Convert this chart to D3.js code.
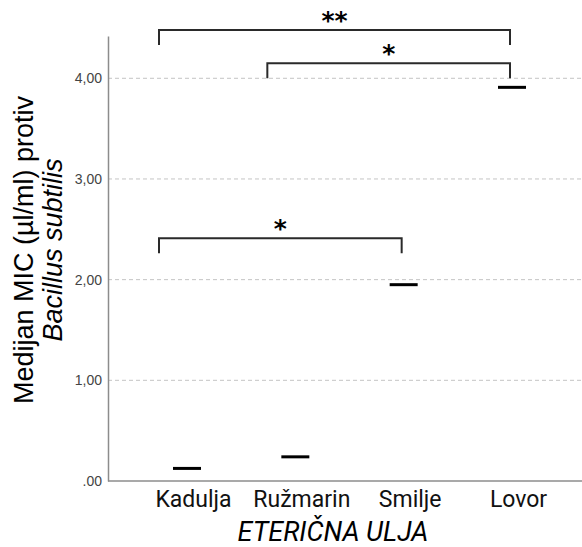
<!DOCTYPE html>
<meta charset="utf-8">
<style>
body {
  margin: 0;
  background-color: #ffffff;
}
.grid line {
  stroke: #c4c4c4;
  stroke-width: 1px;
  stroke-dasharray: 4,3;
}
.axis path,
.axis line {
  fill: none;
  stroke: #8c8c8c;
  stroke-width: 1.5px;
}
.y text {
  font-family: 'Liberation Sans', Arial, sans-serif;
  font-size: 14px;
  fill: #444;
}
.x text {
  font-family: Roboto, sans-serif;
  font-size: 23px;
  fill: #111;
}
.median {
  stroke: #000;
  stroke-width: 3px;
}
.bracket {
  fill: none;
  stroke: #2a2a2a;
  stroke-width: 2px;
}
.star {
  font-family: 'DejaVu Sans', sans-serif;
  font-weight: bold;
  font-size: 25px;
  fill: #000;
}
.title {
  font-size: 27px;
  fill: #000;
}
</style>
<svg width="582" height="547"></svg>
<script src="https://d3js.org/d3.v7.min.js"></script>
<script>
// ulja i medijani MIC
var categories = ["Kadulja", "Ružmarin", "Smilje", "Lovor"];
var medians = [0.125, 0.24, 1.95, 3.91];
var yTicks = [0, 1, 2, 3, 4];
var tickLabels = [".00", "1,00", "2,00", "3,00", "4,00"];

// oznake značajnosti
var bracketFrom = ["Kadulja", "Ružmarin", "Kadulja"];
var bracketTo = ["Lovor", "Lovor", "Smilje"];
var bracketLevel = [4.48, 4.15, 2.41];
var bracketLabel = ["**", "*", "*"];

var svg = d3.select("svg"),
    plotLeft = 108, plotRight = 582, plotTop = 36, plotBottom = 481;

var x = d3.scalePoint().domain(categories).range([187, 512]);
var y = d3.scaleLinear().domain([0, 4.42]).range([plotBottom, plotTop]);

// isprekidane linije mreže
svg.append("g")
    .attr("class", "grid")
  .selectAll("line")
    .data(yTicks.slice(1))
  .enter().append("line")
    .attr("x1", plotLeft)
    .attr("x2", plotRight)
    .attr("y1", function(d) { return y(d); })
    .attr("y2", function(d) { return y(d); });

svg.append("g")
    .attr("class", "y axis")
    .attr("transform", "translate(" + plotLeft + ",0)")
    .call(d3.axisLeft(y).tickValues(yTicks).tickSize(0).tickPadding(6)
      .tickFormat(function(d, i) { return tickLabels[i]; }));

var xAxis = svg.append("g")
    .attr("class", "x axis")
    .attr("transform", "translate(0," + plotBottom + ")")
    .call(d3.axisBottom(x).tickSize(0).tickPadding(6));
xAxis.select(".domain").attr("d", "M" + plotLeft + ",0H" + plotRight);
xAxis.selectAll("text").attr("dx", 6).attr("dy", "0.85em");

// medijani
svg.selectAll(".median")
    .data(categories)
  .enter().append("line")
    .attr("class", "median")
    .attr("x1", function(d) { return x(d) - 14; })
    .attr("x2", function(d) { return x(d) + 14; })
    .attr("y1", function(d, i) { return y(medians[i]); })
    .attr("y2", function(d, i) { return y(medians[i]); });

// zagrade
var drop = 15;
bracketFrom.forEach(function(c, i) {
  var x1 = x(c) - 28, x2 = x(bracketTo[i]) - 2, yy = y(bracketLevel[i]);
  svg.append("path")
      .attr("class", "bracket")
      .attr("d", "M" + x1 + "," + (yy + drop) + "V" + yy + "H" + x2 + "V" + (yy + drop));
  svg.append("text")
      .attr("class", "star")
      .attr("x", (x1 + x2) / 2)
      .attr("y", yy - 1)
      .attr("text-anchor", "middle")
      .text(bracketLabel[i]);
});

// naslovi osi
svg.append("text")
    .attr("class", "title")
    .attr("x", 333)
    .attr("y", 541)
    .attr("text-anchor", "middle")
    .style("font-family", "Roboto, sans-serif")
    .style("font-style", "italic")
    .text("ETERIČNA ULJA");

var yt = svg.append("text")
    .attr("class", "title")
    .attr("transform", "translate(33,250) rotate(-90)")
    .attr("text-anchor", "middle")
    .style("font-family", "'Liberation Sans', Arial, sans-serif");
yt.append("tspan").attr("x", 0).attr("y", 0).text("Medijan MIC (µl/ml) protiv");
yt.append("tspan").attr("x", 0).attr("y", 29).style("font-style", "italic").text("Bacillus subtilis");
</script>
